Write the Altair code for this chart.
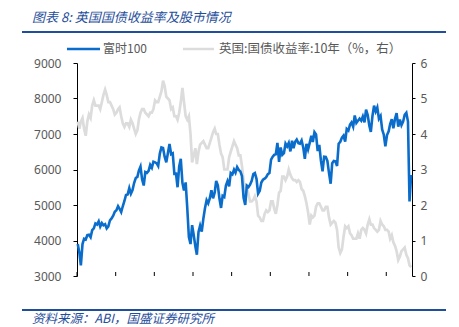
import altair as alt
import pandas as pd

# FTSE 100 (monthly, mid-month readings), Jan 2003 - Apr 2020
ftse_2003 = [3900, 3650, 3300, 3900, 4050, 4030, 4150, 4160, 4090, 4290, 4340, 4480]
ftse_2004 = [4450, 4540, 4390, 4490, 4430, 4460, 4340, 4400, 4570, 4620, 4700, 4810]
ftse_2005 = [4852, 4968, 4894, 4801, 4964, 5113, 5282, 5297, 5478, 5317, 5423, 5619]
ftse_2006 = [5760, 5792, 5965, 6080, 5724, 5550, 5928, 5906, 5961, 6129, 6049, 6221]
ftse_2007 = [6203, 6172, 6100, 6449, 6621, 6608, 6360, 6200, 6467, 6722, 6432, 6457]
ftse_2008 = [5880, 5884, 5500, 6087, 6300, 5626, 5412, 5637, 4902, 4100, 3900, 4434]
ftse_2009 = [4149, 3830, 3600, 4244, 4418, 4249, 4608, 4909, 5134, 5045, 5191, 5413]
ftse_2010 = [5189, 5355, 5680, 5553, 5188, 4917, 5258, 5225, 5549, 5675, 5528, 5900]
ftse_2011 = [5863, 5994, 5909, 6070, 5990, 5946, 5815, 5200, 5000, 5544, 5505, 5572]
ftse_2012 = [5682, 5872, 5900, 5738, 5321, 5400, 5635, 5711, 5742, 5783, 5867, 5898]
ftse_2013 = [6277, 6361, 6412, 6430, 6750, 6215, 6621, 6413, 6462, 6731, 6651, 6749]
ftse_2014 = [6510, 6810, 6598, 6780, 6845, 6744, 6730, 6820, 6623, 6300, 6723, 6566]
ftse_2015 = [6749, 6947, 6773, 7050, 6984, 6521, 6696, 6248, 5950, 6361, 6356, 6242]
ftse_2016 = [5900, 5600, 6175, 6242, 6231, 6100, 6724, 6782, 6899, 6954, 6784, 7143]
ftse_2017 = [7099, 7263, 7323, 7204, 7520, 7313, 7372, 7431, 7373, 7493, 7327, 7688]
ftse_2018 = [7534, 7232, 7057, 7509, 7800, 7637, 7749, 7432, 7510, 7128, 6980, 6650]
ftse_2019 = [6969, 7075, 7279, 7418, 7162, 7426, 7587, 7207, 7408, 7248, 7347, 7542]
ftse_2020 = [7600, 7350, 5100, 5850]

# UK 10Y gilt yield (%), same months
gilt_2003 = [4.35, 4.15, 4.35, 4.45, 4.15, 3.95, 4.35, 4.55, 4.45, 4.8, 4.95, 4.8]
gilt_2004 = [4.8, 4.8, 4.7, 4.9, 5.1, 5.25, 5.1, 4.9, 4.9, 4.8, 4.7, 4.55]
gilt_2005 = [4.6, 4.7, 4.75, 4.5, 4.3, 4.2, 4.3, 4.3, 4.2, 4.4, 4.3, 4.15]
gilt_2006 = [4.0, 4.1, 4.4, 4.6, 4.7, 4.7, 4.6, 4.55, 4.5, 4.6, 4.6, 4.7]
gilt_2007 = [4.95, 4.9, 4.9, 5.05, 5.2, 5.5, 5.35, 5.05, 5.0, 4.95, 4.7, 4.75]
gilt_2008 = [4.5, 4.5, 4.4, 4.6, 4.9, 5.3, 4.9, 4.5, 4.4, 4.5, 4.0, 3.2]
gilt_2009 = [3.4, 3.6, 3.15, 3.5, 3.7, 3.75, 3.8, 3.7, 3.6, 3.6, 3.75, 3.9]
gilt_2010 = [4.05, 4.15, 4.0, 4.0, 3.7, 3.45, 3.35, 3.0, 3.0, 3.0, 3.35, 3.5]
gilt_2011 = [3.65, 3.8, 3.7, 3.6, 3.4, 3.4, 3.1, 2.7, 2.4, 2.5, 2.3, 2.1]
gilt_2012 = [2.1, 2.15, 2.25, 2.1, 1.7, 1.65, 1.55, 1.55, 1.75, 1.85, 1.8, 1.85]
gilt_2013 = [2.1, 2.1, 1.9, 1.75, 2.0, 2.35, 2.4, 2.8, 2.8, 2.7, 2.8, 3.0]
gilt_2014 = [2.85, 2.75, 2.7, 2.7, 2.65, 2.7, 2.65, 2.45, 2.4, 2.25, 2.05, 1.8]
gilt_2015 = [1.45, 1.7, 1.65, 1.7, 1.95, 2.05, 2.05, 1.95, 1.85, 1.85, 1.95, 1.95]
gilt_2016 = [1.65, 1.45, 1.5, 1.55, 1.5, 1.3, 0.8, 0.65, 0.75, 1.1, 1.4, 1.35]
gilt_2017 = [1.4, 1.2, 1.15, 1.05, 1.05, 1.05, 1.2, 1.05, 1.3, 1.35, 1.3, 1.2]
gilt_2018 = [1.45, 1.6, 1.45, 1.45, 1.35, 1.3, 1.25, 1.3, 1.55, 1.45, 1.4, 1.3]
gilt_2019 = [1.3, 1.25, 1.05, 1.15, 0.95, 0.85, 0.7, 0.45, 0.55, 0.7, 0.75, 0.8]
gilt_2020 = [0.6, 0.5, 0.3, 0.25]

tick_years = [2003, 2005, 2007, 2009, 2011, 2013, 2015, 2017, 2019]
left_ticks = [3000, 4000, 5000, 6000, 7000, 8000, 9000]
right_ticks = [0, 1, 2, 3, 4, 5, 6]

title_text = "图表 8:  英国国债收益率及股市情况"
source_text = "资料来源：ABI，国盛证券研究所"
name_ftse = "富时100"
name_gilt = "英国:国债收益率:10年（%，右）"

ftse = (ftse_2003 + ftse_2004 + ftse_2005 + ftse_2006 + ftse_2007 + ftse_2008 +
        ftse_2009 + ftse_2010 + ftse_2011 + ftse_2012 + ftse_2013 + ftse_2014 +
        ftse_2015 + ftse_2016 + ftse_2017 + ftse_2018 + ftse_2019 + ftse_2020)
gilt = (gilt_2003 + gilt_2004 + gilt_2005 + gilt_2006 + gilt_2007 + gilt_2008 +
        gilt_2009 + gilt_2010 + gilt_2011 + gilt_2012 + gilt_2013 + gilt_2014 +
        gilt_2015 + gilt_2016 + gilt_2017 + gilt_2018 + gilt_2019 + gilt_2020)

dates = pd.date_range("2003-01-01", periods=len(ftse), freq="MS") + pd.Timedelta(days=14)
df = pd.DataFrame({"date": dates, "ftse": ftse, "gilt": gilt})
ticks_df = pd.DataFrame({"date": pd.to_datetime([f"{y}-01-01" for y in tick_years])})
one = pd.DataFrame({"a": [0]})

W, H = 335, 213
BLUE = "#0A6DCB"
GRAY = "#DCDCDC"
NAVY = "#1F4E9A"
LABEL = "#595959"
FONT = "Noto Sans"
CJK = "Noto Sans CJK SC"

xscale = alt.Scale(domain=[alt.DateTime(year=2003, month=1, date=1),
                           alt.DateTime(year=2020, month=5, date=1)])
xaxis = alt.Axis(values=[alt.DateTime(year=y, month=1, date=1) for y in tick_years],
                 format="%Y", ticks=False, labelPadding=13, labelFlush=False,
                 labelOverlap=False, domainColor="black", domainWidth=1,
                 labelColor=LABEL, labelFontSize=12, labelFont=FONT, title=None, grid=False)

base = alt.Chart(df)

gilt_line = base.mark_line(color=GRAY, strokeWidth=2.7).encode(
    x=alt.X("date:T", scale=xscale, axis=xaxis),
    y=alt.Y("gilt:Q", scale=alt.Scale(domain=[0, 6], nice=False, zero=False),
            axis=alt.Axis(orient="right", values=right_ticks, title=None, grid=False,
                          format="d", tickSize=3, tickColor="black", domainColor="black",
                          labelPadding=5, labelColor=LABEL, labelFontSize=12,
                          labelFont=FONT)),
)

ftse_line = base.mark_line(color=BLUE, strokeWidth=2.6).encode(
    x=alt.X("date:T", scale=xscale, axis=xaxis),
    y=alt.Y("ftse:Q", scale=alt.Scale(domain=[3000, 9000], nice=False, zero=False),
            axis=alt.Axis(orient="left", values=left_ticks, title=None, grid=False,
                          format="d", tickSize=4, tickColor="black", domainColor="black",
                          labelPadding=12, labelColor=LABEL, labelFontSize=12,
                          labelFont=FONT)),
)

xticks = alt.Chart(ticks_df).mark_rule(color="black", strokeWidth=1).encode(
    x=alt.X("date:T", scale=xscale, axis=None),
    y=alt.value(H - 4), y2=alt.value(H),
)

def txt(text, x, y, color, size, italic=False):
    return alt.Chart(one).mark_text(
        align="left", baseline="middle", font=CJK, fontSize=size, color=color,
        fontStyle="italic" if italic else "normal",
    ).encode(x=alt.value(x), y=alt.value(y), text=alt.value(text))

def hline(x1, x2, y, color, w):
    return alt.Chart(one).mark_rule(color=color, strokeWidth=w).encode(
        x=alt.value(x1), x2=alt.value(x2), y=alt.value(y))

deco = [
    txt(title_text, -45, -45, NAVY, 13, italic=True),
    hline(-55, 369, -31, NAVY, 2),
    hline(-10, 23, -14, BLUE, 2.5),
    txt(name_ftse, 26, -14, LABEL, 12),
    hline(106, 137, -14, GRAY, 2.5),
    txt(name_gilt, 142, -14, LABEL, 12.5),
    hline(-55, 369, 247, NAVY, 2),
    txt(source_text, -45, 256, NAVY, 12.5, italic=True),
]

chart = alt.layer(gilt_line, ftse_line, xticks, *deco).resolve_scale(
    y="independent"
).properties(
    width=W, height=H,
    autosize=alt.AutoSizeParams(type="none"),
    padding={"left": 77, "top": 63, "right": 47, "bottom": 51},
    background="white",
).configure_view(stroke=None)

chart.save("out.html", embed_options={"renderer": "svg", "actions": False})
